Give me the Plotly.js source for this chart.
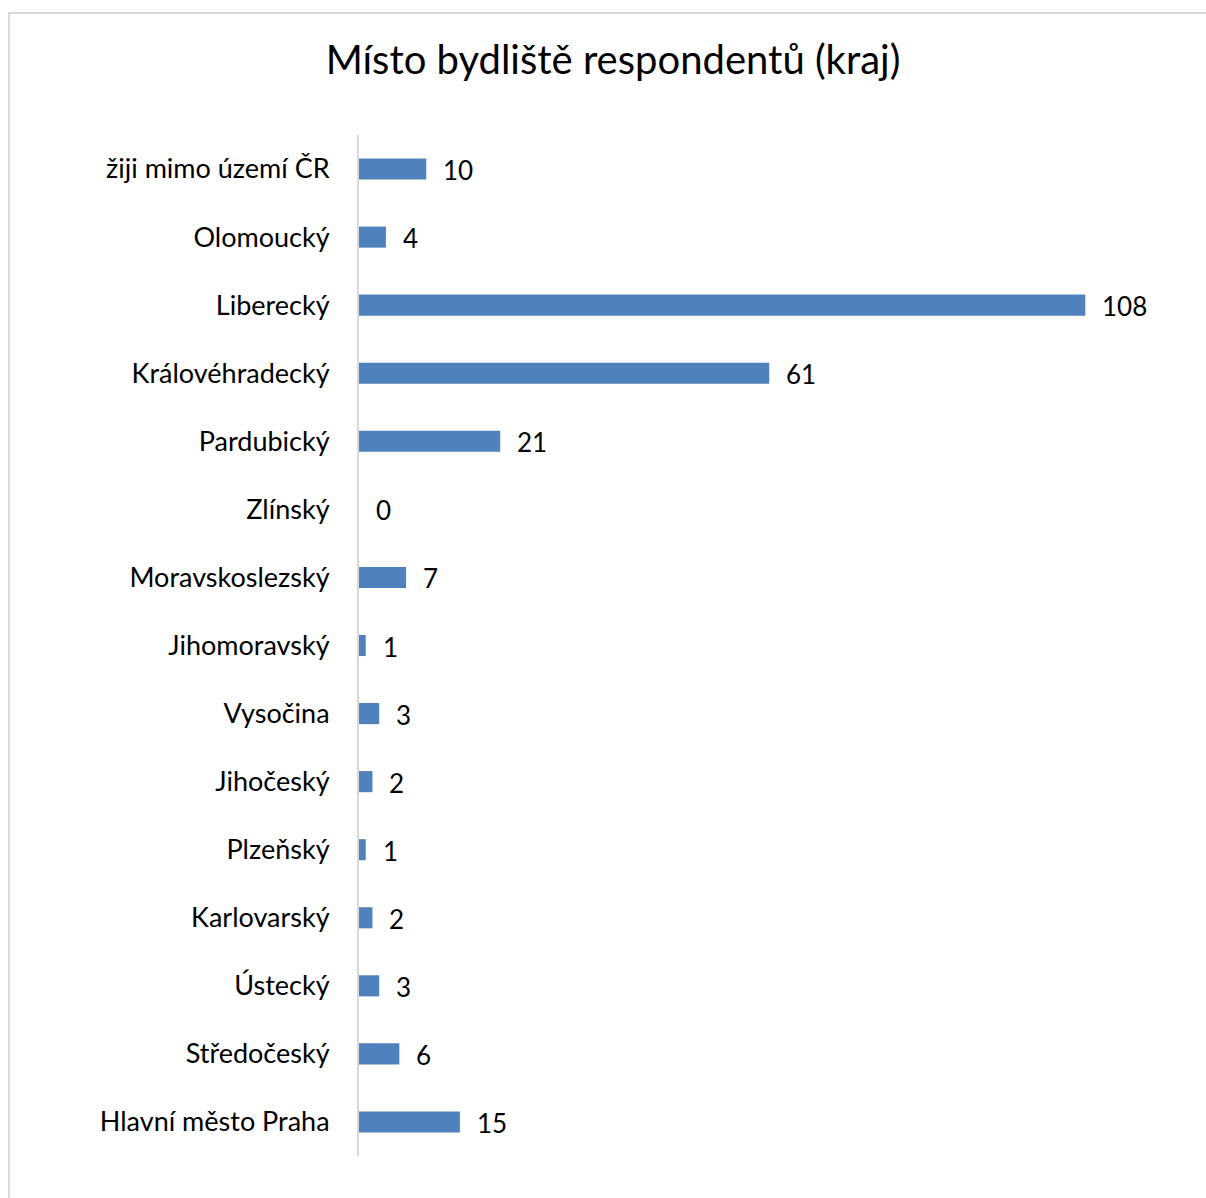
<!DOCTYPE html>
<html>
<head>
<meta charset="utf-8">
<script src="https://cdn.plot.ly/plotly-3.0.1.min.js"></script>
<style>
html,body{margin:0;padding:0;background:#fff;overflow:hidden;width:1206px;height:1198px;}
#frame{position:absolute;left:8px;top:12px;width:1400px;height:1400px;border-left:2px solid #d9d9d9;border-top:2px solid #d9d9d9;box-sizing:border-box;}
#chart{position:absolute;left:0;top:0;width:1206px;height:1198px;}
</style>
</head>
<body>
<div id="frame"></div>
<div id="chart"></div>
<script>
const categories = ["Hlavní město Praha","Středočeský","Ústecký","Karlovarský","Plzeňský","Jihočeský","Vysočina","Jihomoravský","Moravskoslezský","Zlínský","Pardubický","Královéhradecký","Liberecký","Olomoucký","žiji mimo území ČR"];
const counts = [15,6,3,2,1,2,3,1,7,0,21,61,108,4,10];
const chartTitle = "Místo bydliště respondentů (kraj)";

const FONT = "Lato, 'Open Sans', sans-serif";

const trace = {
  type: "bar",
  orientation: "h",
  y: categories,
  x: counts,
  marker: {color: "#4f81bd", line: {width: 0}},
  hoverinfo: "none"
};

const annotations = categories.map((c, i) => ({
  x: counts[i], y: c, xref: "x", yref: "y",
  text: String(counts[i]), showarrow: false,
  xanchor: "left", yanchor: "middle", xshift: 15, yshift: -1,
  font: {family: FONT, size: 26, color: "#000"}
}));

const layout = {
  width: 1206, height: 1198,
  paper_bgcolor: "rgba(0,0,0,0)",
  plot_bgcolor: "rgba(0,0,0,0)",
  margin: {l: 359, r: 40, t: 135, b: 42},
  bargap: 0.69,
  showlegend: false,
  title: {
    text: chartTitle,
    x: 613/1206, xanchor: "center",
    y: 1 - 60/1198, yanchor: "middle", yref: "container",
    font: {family: FONT, size: 40, color: "#000"}
  },
  xaxis: {
    range: [0, 120], showgrid: false, zeroline: false, showline: false,
    showticklabels: false, ticks: "", fixedrange: true
  },
  yaxis: {
    type: "category", categoryorder: "array", categoryarray: categories,
    showgrid: false, zeroline: false, showline: true, linecolor: "#d9d9d9", linewidth: 2,
    ticks: "", ticklabelstandoff: 22,
    tickfont: {family: FONT, size: 27, color: "#000"},
    fixedrange: true
  },
  annotations: annotations
};

Plotly.newPlot("chart", [trace], layout, {staticPlot: true, displayModeBar: false});
</script>
</body>
</html>
